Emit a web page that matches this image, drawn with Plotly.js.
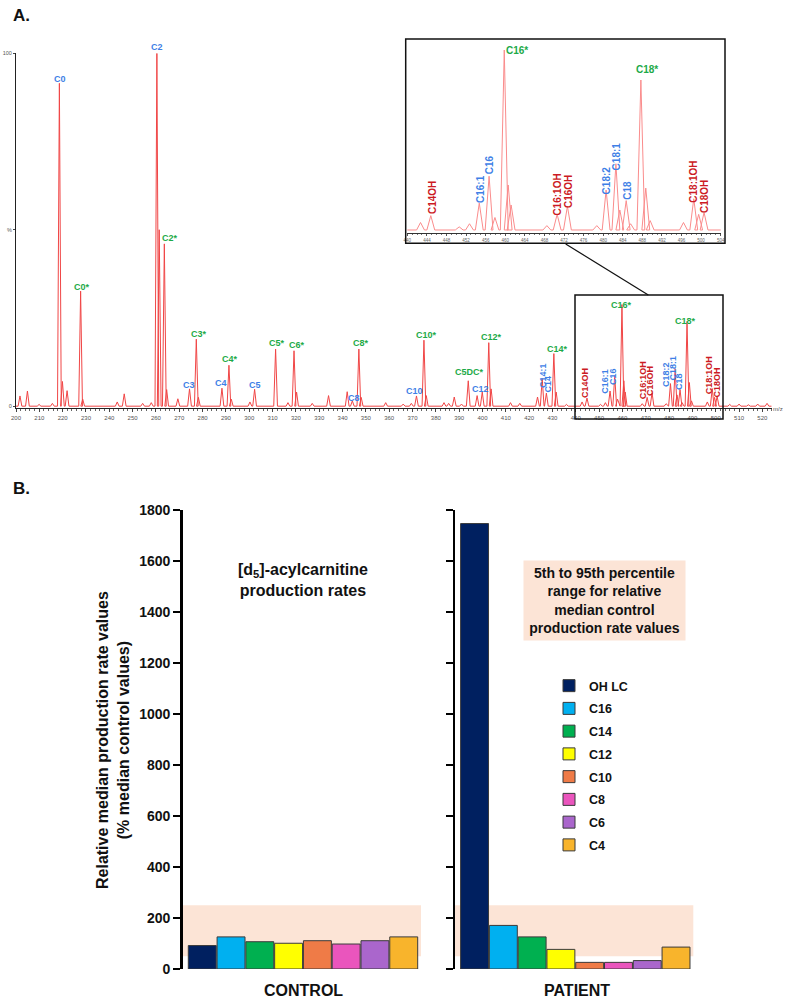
<!DOCTYPE html>
<html>
<head>
<meta charset="utf-8">
<script src="https://cdn.plot.ly/plotly-3.0.1.min.js"></script>
<style>
  body { margin: 0; background: #fff; }
  #plotArea { width: 787px; height: 1000px; }
</style>
</head>
<body>
<div id="plotArea"></div>
<script>
// ---- panel A: spectrum peaks (m/z, % intensity)
var peakMz = [201.7, 204.9, 209.9, 215.6, 218.6, 219.9, 221.9, 227.7, 228.6, 243.4, 246.4, 254.3, 258.0,
  260.4, 261.4, 263.6, 264.6, 269.4, 274.4, 277.3, 278.2, 288.3, 291.3, 292.3, 300.3, 302.3, 311.3,
  316.6, 319.2, 320.3, 327.0, 334.0, 342.0, 344.2, 347.0, 348.0, 358.5, 366.0, 369.5, 371.7, 374.9,
  375.9, 383.5, 385.5, 387.9, 391.0, 393.9, 397.7, 399.9, 402.7, 403.7, 412.0, 416.0, 423.6, 425.6,
  427.4, 430.6, 431.6, 436.0, 442.7, 444.8, 450.6, 452.7, 454.7, 456.7, 457.9, 459.8, 460.6, 461.2,
  468.5, 470.6, 472.7, 478.7, 480.6, 482.6, 483.4, 484.7, 485.6, 487.7, 488.7, 489.6, 496.4, 498.5,
  499.5, 500.6, 506.0, 510.0, 514.0, 518.0, 522.0];
var peakInt = [2.9, 4.3, 0.5, 0.8, 91.5, 7.0, 4.4, 32.6, 2.0, 1.2, 3.5, 0.8, 1.0,
  100, 50, 46, 4.7, 2.1, 4.9, 19, 2.5, 5.1, 11.6, 2.0, 1.2, 4.8, 16.2,
  1.0, 15.7, 4.0, 0.8, 3.0, 4.1, 1.5, 16.2, 2.5, 1.0, 0.6, 0.8, 2.9, 18.7,
  3.0, 1.0, 0.8, 2.6, 0.6, 7.2, 3.0, 4.0, 18, 4.9, 1.0, 0.8, 2.6, 7.9,
  3.7, 14.9, 4.0, 0.5, 1.2, 2.3, 0.5, 1.0, 4.3, 8.6, 2.0, 28.8, 7.2, 4.0,
  0.7, 2.5, 3.8, 0.7, 6.4, 10.6, 3.2, 4.7, 1.0, 24, 6.7, 1.5, 1.2, 5.0,
  2.5, 2.8, 0.5, 0.6, 0.4, 0.6, 0.8];

// peak labels
var mainLabels = ['C0', 'C2', 'C0*', 'C2*', 'C3*', 'C3', 'C4', 'C4*', 'C5', 'C5*', 'C6*', 'C8*', 'C8',
  'C10*', 'C10', 'C5DC*', 'C12', 'C12*', 'C14*', 'C14:1', 'C14', 'C14OH', 'C16:1', 'C16', 'C16*',
  'C16:1OH', 'C16OH', 'C18:2', 'C18:1', 'C18', 'C18*', 'C18:1OH', 'C18OH'];
var insetLabels = ['C14OH', 'C16:1', 'C16', 'C16*', 'C16:1OH', 'C16OH', 'C18:2', 'C18:1', 'C18',
  'C18*', 'C18:1OH', 'C18OH'];

// ---- panel B
var species = ['OH LC', 'C16', 'C14', 'C12', 'C10', 'C8', 'C6', 'C4'];
var controlVals = [92, 126, 107, 101, 111, 98, 111, 126];
var patientVals = [1748, 171, 126, 77, 26, 26, 33, 86];
var refLow = 50, refHigh = 250;   // 5th-95th percentile band
var groups = ['CONTROL', 'PATIENT'];

var barColors = ['#002060', '#00B0F0', '#00B050', '#FFFF00', '#EF7B47', '#EA55BD', '#AA66CC', '#F8B42C'];

var W = 787, H = 1000;
function px(x) { return x / W; }
function py(y) { return 1 - y / H; }
var FONT = 'Arial, "Liberation Sans", sans-serif';

// spectrum as a line: each peak rises from the baseline and falls back
var halfW = 0.8;
function profile() {
  var xs = [200], ys = [0];
  for (var i = 0; i < peakMz.length; i++) {
    xs.push(peakMz[i] - halfW, peakMz[i], peakMz[i] + halfW);
    ys.push(0, peakInt[i], 0);
  }
  xs.push(524); ys.push(0);
  return {x: xs, y: ys};
}
var prof = profile();

var traces = [
  {x: prof.x, y: prof.y, xaxis: 'x', yaxis: 'y', type: 'scatter', mode: 'lines',
   line: {color: 'rgb(240,70,70)', width: 1}, showlegend: false, hoverinfo: 'skip'},
  {x: prof.x, y: prof.y, xaxis: 'x2', yaxis: 'y2', type: 'scatter', mode: 'lines',
   line: {color: 'rgb(250,140,140)', width: 1}, showlegend: false, hoverinfo: 'skip'}
];

species.forEach(function (s, i) {
  traces.push({
    type: 'bar', name: s, x: [i], y: [controlVals[i]], xaxis: 'x3', yaxis: 'y3',
    width: 0.97, legendgroup: s, showlegend: true,
    marker: {color: barColors[i], line: {color: '#3a3a3a', width: 1}}
  });
  traces.push({
    type: 'bar', name: s, x: [i], y: [patientVals[i]], xaxis: 'x4', yaxis: 'y4',
    width: 0.97, legendgroup: s, showlegend: false,
    marker: {color: barColors[i], line: {color: '#3a3a3a', width: 1}}
  });
});

// label placement (pixel centres) and colours
var blue = '#3f7fe6', green = '#1daa48', red = '#cc1a24';
var mainPos = [
  [59.7, 79, 0, blue], [157, 46.7, 0, blue], [81.7, 287.3, 0, green], [170, 237.7, 0, green],
  [199, 334, 0, green], [189, 385, 0, blue], [221, 383.3, 0, blue], [230, 359.3, 0, green],
  [255, 385, 0, blue], [276.7, 342.7, 0, green], [296.7, 345, 0, green], [361, 343.3, 0, green],
  [354.3, 397.7, 0, blue], [426.7, 335, 0, green], [414, 390.7, 0, blue], [470, 371.7, 0, green],
  [480.7, 389, 0, blue], [491, 337.3, 0, green], [557.7, 349.3, 0, green], [542.3, 375.7, -90, blue],
  [548.3, 384.3, -90, blue], [584.3, 382.7, -90, red], [605, 381.7, -90, blue], [612.3, 376.7, -90, blue],
  [621.7, 305, 0, green], [643.3, 380, -90, red], [649.3, 380.7, -90, red], [666, 375, -90, blue],
  [673.3, 368.3, -90, blue], [678.3, 381.7, -90, blue], [685, 320.7, 0, green], [709.3, 375, -90, red],
  [717.3, 382.3, -90, red]
];
var insetPos = [
  [432.3, 197.7, -90, red], [480, 189, -90, blue], [489.3, 165, -90, blue], [516.7, 50, 0, green],
  [557.3, 194.3, -90, red], [568.3, 191.7, -90, red], [606.7, 180.7, -90, blue], [616.7, 156.7, -90, blue],
  [627.7, 190, -90, blue], [646.7, 69.3, 0, green], [694, 181.7, -90, red], [704.3, 196.7, -90, red]
];

var annotations = [];
function addLabels(names, pos, size) {
  names.forEach(function (t, i) {
    var p = pos[i];
    annotations.push({
      text: t, xref: 'paper', yref: 'paper', x: px(p[0]), y: py(p[1]),
      xanchor: 'center', yanchor: 'middle', textangle: p[2], showarrow: false,
      font: {family: FONT, size: size, color: p[3], weight: 'bold'}
    });
  });
}
addLabels(mainLabels, mainPos, 9);
addLabels(insetLabels, insetPos, 10);

function txt(t, x, y, size, extra) {
  var a = {text: t, xref: 'paper', yref: 'paper', x: px(x), y: py(y), xanchor: 'center',
    yanchor: 'middle', showarrow: false, font: {family: FONT, size: size, color: '#111', weight: 'bold'}};
  for (var k in extra) a[k] = extra[k];
  annotations.push(a);
}
txt('A.', 11, 15, 17, {xanchor: 'left'});
txt('B.', 11, 488, 17, {xanchor: 'left'});
txt('m/z', 778, 409, 6, {font: {family: FONT, size: 6, color: '#555'}});
txt('[d<sub>5</sub>]-acylcarnitine<br>production rates', 303, 580, 16);
txt('5th to 95th percentile<br>range for relative<br>median control<br>production rate values', 604.5, 600.5, 14,
  {bgcolor: '#FCE4D6', borderpad: 3, width: 155, height: 73});
txt('Relative median production rate values<br>(% median control values)', 113, 740, 16, {textangle: -90});
txt(groups[0], 303, 990, 16);
txt(groups[1], 577, 990, 16);

var shapes = [
  {type: 'rect', xref: 'paper', yref: 'paper', x0: px(405.7), x1: px(725), y0: py(243.3), y1: py(39),
   line: {color: '#111', width: 1.5}},
  {type: 'rect', xref: 'paper', yref: 'paper', x0: px(575), x1: px(723), y0: py(419), y1: py(295),
   line: {color: '#111', width: 1.5}},
  {type: 'line', xref: 'paper', yref: 'paper', x0: px(565.7), x1: px(648.3), y0: py(244), y1: py(295),
   line: {color: '#111', width: 1.2}},
  {type: 'rect', xref: 'x3 domain', yref: 'y3', x0: 0, x1: 1, y0: refLow, y1: refHigh,
   fillcolor: '#FCE4D6', line: {width: 0}, layer: 'below'},
  {type: 'rect', xref: 'x4 domain', yref: 'y4', x0: 0, x1: 1, y0: refLow, y1: refHigh,
   fillcolor: '#FCE4D6', line: {width: 0}, layer: 'below'}
];

var barY = {
  range: [0, 1800], dtick: 200, showline: true, linecolor: '#000', linewidth: 2.5,
  ticks: 'outside', ticklen: 7, tickwidth: 2, tickcolor: '#000', showgrid: false, zeroline: false,
  tickfont: {family: FONT, size: 14, color: '#111', weight: 'bold'}, domain: [py(969), py(510.3)]
};
function copy(o, extra) { var r = {}; for (var k in o) r[k] = o[k]; for (var k2 in extra) r[k2] = extra[k2]; return r; }

var layout = {
  width: W, height: H, margin: {l: 0, r: 0, t: 0, b: 0},
  paper_bgcolor: '#fff', plot_bgcolor: 'rgba(0,0,0,0)',
  font: {family: FONT}, barmode: 'overlay', showlegend: true,
  xaxis: {domain: [px(16), px(771.7)], range: [200, 524], anchor: 'y', showline: true, linecolor: '#222',
    linewidth: 1, ticks: 'outside', ticklen: 3, tickcolor: '#444', tick0: 200, dtick: 10,
    tickfont: {size: 6, color: '#555'}, showgrid: false, zeroline: false,
    minor: {dtick: 2, ticks: 'outside', ticklen: 1.5, tickcolor: '#666'}},
  yaxis: {domain: [py(408.3), py(53.3)], range: [-0.6, 100], anchor: 'x', showline: true, linecolor: '#222',
    linewidth: 1, ticks: 'outside', ticklen: 2, tickcolor: '#444', tickvals: [0, 50, 100],
    ticktext: ['0', '%', '100'], tickfont: {size: 5.5, color: '#555'}, showgrid: false, zeroline: false},
  xaxis2: {domain: [px(407.3), px(720.7)], range: [440, 504], anchor: 'y2', showline: true, linecolor: '#333',
    linewidth: 1, ticks: 'outside', ticklen: 2, tickcolor: '#555', tick0: 440, dtick: 4,
    tickfont: {size: 4.5, color: '#666'}, showgrid: false, zeroline: false,
    minor: {dtick: 1, ticks: 'outside', ticklen: 1, tickcolor: '#777'}},
  yaxis2: {domain: [py(233.3), py(45)], range: [-0.53, 29.6], anchor: 'x2', visible: false},
  xaxis3: {domain: [px(182.7), px(421)], range: [-0.68, 7.6], anchor: 'y3', visible: false},
  yaxis3: copy(barY, {anchor: 'x3'}),
  xaxis4: {domain: [px(455), px(693.3)], range: [-0.68, 7.6], anchor: 'y4', visible: false},
  yaxis4: copy(barY, {anchor: 'x4', showticklabels: false}),
  legend: {x: px(549), y: py(671), xanchor: 'left', yanchor: 'top', bgcolor: 'rgba(0,0,0,0)',
    font: {family: FONT, size: 12.5, color: '#111', weight: 'bold'}, tracegroupgap: 3.5,
    traceorder: 'grouped'},
  annotations: annotations,
  shapes: shapes
};

Plotly.newPlot('plotArea', traces, layout, {staticPlot: true});
</script>
</body>
</html>
